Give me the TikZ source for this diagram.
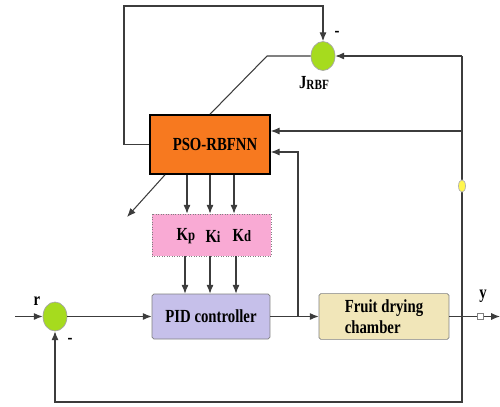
\documentclass[tikz,border=0pt]{standalone}
\usepackage{fontspec}
\setmainfont{Liberation Serif}[FakeStretch=0.8]
\usetikzlibrary{shapes.geometric,arrows.meta}

\definecolor{psoorange}{HTML}{F7791F}
\definecolor{gainpink}{HTML}{F9AAD4}
\definecolor{pidlilac}{HTML}{C6C0EA}
\definecolor{planttan}{HTML}{F1E6B9}
\definecolor{sumgreen}{HTML}{A6DB1E}
\definecolor{wiregray}{HTML}{3C3C3C}

\tikzset{
  block/.style={draw, rectangle, font=\fontsize{10.5}{12}\selectfont\bfseries},
  sumnode/.style={draw=gray!70, ellipse, fill=sumgreen, minimum width=0.48cm,
    minimum height=0.58cm, inner sep=0pt},
  wire/.style={draw=wiregray, line width=0.6pt},
  lbl/.style={font=\fontsize{10.5}{12}\selectfont\bfseries, inner sep=0pt}
}

\begin{document}
\begin{tikzpicture}[x=0.02cm, y=-0.02cm, >={Latex[length=5pt,width=4pt]}]

\useasboundingbox (0,0) rectangle (500,406);

% blocks
\node[block, fill=psoorange, line width=0.9pt, minimum width=2.4cm, minimum height=1.18cm] (pso) at (210,144.5) {\hspace*{0.2cm}PSO-RBFNN};

\node[block, fill=gainpink, draw=gray, densely dotted, minimum width=2.38cm, minimum height=0.84cm] (gains) at (211.5,235) {};
\node[lbl] (kp) at (186,236) {K{\small p}};
\node[lbl] (ki) at (213,236) {K{\small i}};
\node[lbl] (kd) at (242,236) {K{\small d}};

\node[block, fill=pidlilac, draw=gray, rounded corners=1pt, minimum width=2.36cm, minimum height=0.9cm] (pid) at (211,316.5) {PID controller};

\node[block, fill=planttan, draw=gray, rounded corners=1pt, minimum width=2.6cm, minimum height=0.86cm, align=left] (plant) at (384,316.5) {Fruit drying\\chamber};

% summing junctions
\node[sumnode] (sumr) at (55,316.5) {};
\node[sumnode] (sumj) at (323,56) {};

\node[lbl] (r) at (37,301) {r};
\node[lbl] (mr) at (70,341) {-};
\node[lbl] (mj) at (337,34) {-};
\node[lbl] (jrbf) at (314,83) {J\raisebox{-1pt}{\footnotesize RBF}};
\node[lbl] (y) at (483,296) {y};

% helper points
\coordinate (rin) at (15,316.5);
\coordinate (tap) at (298,316.5);
\coordinate (ytap) at (462,316.5);
\coordinate (yout) at (500,316.5);
\coordinate (br) at (462,402);
\coordinate (tr) at (462,56);
\coordinate (rtap) at (462,131);
\coordinate (lt) at (124,6);
\coordinate (rt) at (323,6);
\coordinate (jk) at (267,56);
\coordinate (dd) at (127,217);

% main loop
\draw[wire, ->] (rin) -- (sumr.west);
\draw[wire, ->] (sumr.east) -- (pid.west);
\draw[wire, ->] (pid.east) -- (plant.west);
\draw[wire] (plant.east) -- (ytap);
\draw[wire, ->] (ytap) -- (yout);
\node[draw=gray, fill=white, minimum size=3.5pt, inner sep=0pt] (ysq) at (480,316.5) {};
\draw[wire, ->] (ytap) -- (br) -| (sumr.south);

% signals into PSO-RBFNN
\draw[wire, ->] (tap) |- (pso.east |- 0,152);
\draw[wire] (ytap) -- (tr);
\draw[wire, ->] (rtap) -- (pso.east |- 0,131);
\node[draw=gray!60, fill=yellow!70, ellipse, minimum width=4pt, minimum height=7pt, inner sep=0pt] (ydot) at (462,186) {};

% identification error
\draw[wire, ->] (tr) -- (sumj.east);
\draw[wire, ->] (pso.west) -| (lt) -- (rt) -- (sumj.north);
\draw[wire] (sumj.west) -- (jk) -- (pso.north);
\draw[wire, ->] (pso.south -| 165,0) -- (dd);

% gains
\foreach \x in {187,210,234}
  \draw[wire, ->] (pso.south -| \x,0) -- (gains.north -| \x,0);
\foreach \x in {185,210,236}
  \draw[wire, ->] (gains.south -| \x,0) -- (pid.north -| \x,0);

\end{tikzpicture}
\end{document}
